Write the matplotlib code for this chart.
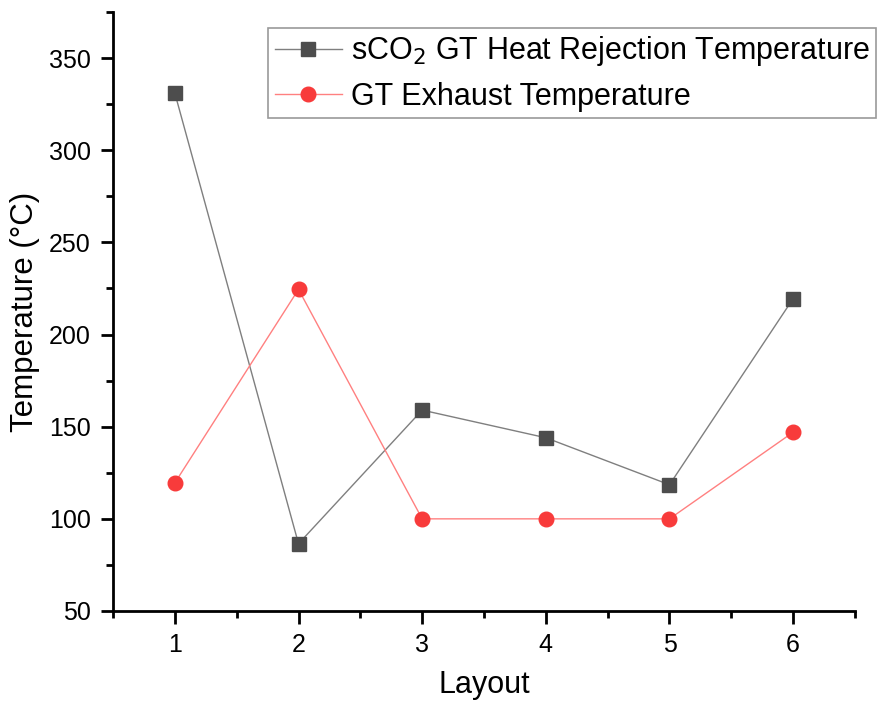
import matplotlib
matplotlib.use("Agg")
import matplotlib.pyplot as plt
from matplotlib.ticker import MultipleLocator

plt.rcParams['font.family'] = ['Liberation Sans', 'DejaVu Sans']

layout = [1, 2, 3, 4, 5, 6]
sco2_heat_rejection = [331, 86.5, 159, 144, 118.5, 219.5]
gt_exhaust = [119.5, 224.5, 100, 100, 100, 147]

fig = plt.figure(figsize=(8.78, 7.04), dpi=100)
ax = fig.add_axes([113/878, 1-611/704, (855-113)/878, (611-12)/704])

ax.plot(layout, sco2_heat_rejection, color='#7f7f7f', lw=1.0, marker='s', ms=9.5,
        mfc='#4d4d4d', mec='#4d4d4d', label=r'sCO$_2$ GT Heat Rejection Temperature')
ax.plot(layout, gt_exhaust, color='#ff8080', lw=1.0, marker='o', ms=10.5,
        mfc='#f83b3b', mec='#f83b3b', label='GT Exhaust Temperature')

ax.set_xlim(0.5, 6.5)
ax.set_ylim(50, 375)
ax.xaxis.set_major_locator(MultipleLocator(1))
ax.xaxis.set_minor_locator(MultipleLocator(0.5))
ax.yaxis.set_major_locator(MultipleLocator(50))
ax.yaxis.set_minor_locator(MultipleLocator(25))

for s in ['top', 'right']:
    ax.spines[s].set_visible(False)
for s in ['left', 'bottom']:
    ax.spines[s].set_linewidth(2)

ax.tick_params(which='major', direction='out', length=9, width=2, labelsize=18, pad=7)
ax.tick_params(which='minor', direction='out', length=5, width=2)

ax.set_xlabel('Layout', fontsize=22, labelpad=9)
ax.set_ylabel('Temperature (°C)', fontsize=22.5, labelpad=6)

leg = ax.legend(loc='upper right', bbox_to_anchor=(1.028, 0.973), fontsize=22,
                frameon=True, fancybox=False, edgecolor='#808080',
                handlelength=2.2, borderpad=0.2, labelspacing=0.45, handletextpad=0.3,
                borderaxespad=0)
leg.get_frame().set_linewidth(1.2)

fig.savefig('out.png', dpi=100)
